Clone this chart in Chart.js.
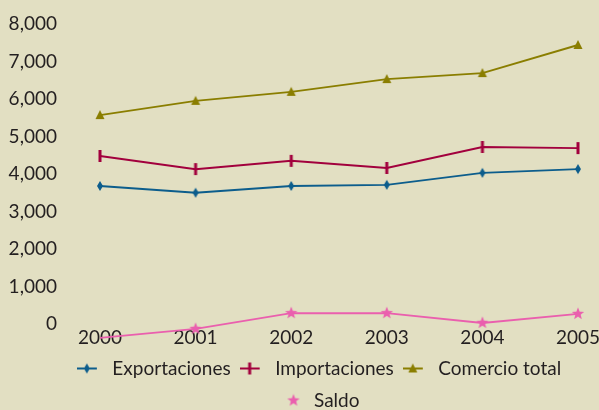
<!DOCTYPE html>
<html lang="es">
<head>
<meta charset="UTF-8">
<title>Comercio exterior 2000-2005</title>
<script src="https://cdn.jsdelivr.net/npm/chart.js"></script>
<style>
  html, body { margin: 0; padding: 0; background: #e2dfc2; }
  #wrap { width: 599px; height: 410px; }
</style>
</head>
<body>
<div id="wrap"><canvas id="tradeChart"></canvas></div>
<script>
// values per year
const years = ['2000', '2001', '2002', '2003', '2004', '2005'];
const exportaciones = [3680, 3500, 3680, 3710, 4030, 4130];
const importaciones = [4480, 4130, 4350, 4160, 4720, 4690];
const comercioTotal = [5570, 5950, 6190, 6530, 6690, 7440];
const saldo = [-370, -130, 290, 290, 30, 270];
const yTicks = [0, 1000, 2000, 3000, 4000, 5000, 6000, 7000, 8000];

const BLUE = '#0c5d8c';
const RED = '#a2003d';
const OLIVE = '#8a7e00';
const PINK = '#ea5fae';
const TEXT = '#231f20';
const FONT = 'Lato, "Open Sans", sans-serif';

// marker shapes, drawn into small canvases used as pointStyle
function diamond(ctx, cx, cy, color) {
    ctx.fillStyle = color;
    ctx.beginPath();
    ctx.moveTo(cx, cy - 5);
    ctx.lineTo(cx + 3, cy);
    ctx.lineTo(cx, cy + 5);
    ctx.lineTo(cx - 3, cy);
    ctx.closePath();
    ctx.fill();
}
function bar(ctx, cx, cy, color) {
    ctx.fillStyle = color;
    ctx.fillRect(cx - 1.5, cy - 6, 3, 12);
}
function triangle(ctx, cx, cy, color) {
    ctx.fillStyle = color;
    ctx.beginPath();
    ctx.moveTo(cx, cy - 5);
    ctx.lineTo(cx + 4.5, cy + 4);
    ctx.lineTo(cx - 4.5, cy + 4);
    ctx.closePath();
    ctx.fill();
}
function star(ctx, cx, cy, color) {
    ctx.fillStyle = color;
    ctx.beginPath();
    for (let i = 0; i < 10; i++) {
        const r = i % 2 === 0 ? 6.5 : 2.8;
        const a = -Math.PI / 2 + i * Math.PI / 5;
        const px = cx + r * Math.cos(a), py = cy + r * Math.sin(a);
        if (i === 0) ctx.moveTo(px, py); else ctx.lineTo(px, py);
    }
    ctx.closePath();
    ctx.fill();
}

function makeCanvas(w, h, draw) {
    const c = document.createElement('canvas');
    c.width = w;
    c.height = h;
    draw(c.getContext('2d'), w, h);
    return c;
}
function pointIcon(shape, color) {
    return makeCanvas(16, 16, ctx => shape(ctx, 8, 8, color));
}
// legend swatch: short line with the marker (Saldo gets the marker only)
function legendIcon(shape, color, withLine) {
    return makeCanvas(30, 16, ctx => {
        if (withLine) {
            ctx.strokeStyle = color;
            ctx.lineWidth = 2;
            ctx.beginPath();
            ctx.moveTo(0, 8);
            ctx.lineTo(20, 8);
            ctx.stroke();
            shape(ctx, 10, 8, color);
        } else {
            shape(ctx, 15, 8, color);
        }
    });
}

function series(label, data, color, shape, withLine) {
    return {
        label: label,
        data: data,
        borderColor: color,
        backgroundColor: color,
        borderWidth: 2,
        tension: 0,
        clip: false,
        pointStyle: pointIcon(shape, color),
        legendIcon: legendIcon(shape, color, withLine)
    };
}

// moves the legend block so its rows are centred under the plot
const legendShift = {
    id: 'legendShift',
    afterLayout(chart) {
        chart.legend.left = 64;
        chart.legend.right = 578;
    }
};

const chart = new Chart(document.getElementById('tradeChart'), {
    type: 'line',
    data: {
        labels: years,
        datasets: [
            series('Exportaciones', exportaciones, BLUE, diamond, true),
            series('Importaciones', importaciones, RED, bar, true),
            series('Comercio total', comercioTotal, OLIVE, triangle, true),
            series('Saldo', saldo, PINK, star, false)
        ]
    },
    plugins: [legendShift],
    options: {
        responsive: true,
        maintainAspectRatio: false,
        animation: false,
        layout: { padding: { top: 24, right: 21, left: 0, bottom: 0 } },
        plugins: {
            tooltip: { enabled: false },
            legend: {
                position: 'bottom',
                maxHeight: 64,
                labels: {
                    usePointStyle: true,
                    pointStyleWidth: 22,
                    padding: 13,
                    color: TEXT,
                    font: { family: FONT, size: 19 },
                    generateLabels: c => c.data.datasets.map((ds, i) => ({
                        text: ds.label,
                        pointStyle: ds.legendIcon,
                        fillStyle: ds.borderColor,
                        strokeStyle: ds.borderColor,
                        lineWidth: 0,
                        fontColor: TEXT,
                        hidden: false,
                        datasetIndex: i
                    }))
                }
            }
        },
        scales: {
            x: {
                grid: { display: false, drawTicks: false },
                border: { display: false },
                afterFit: axis => {
                    axis.height = 22;
                    axis.paddingLeft = 0;
                    axis.paddingRight = 0;
                },
                ticks: { color: TEXT, padding: 2, font: { family: FONT, size: 19 }, maxRotation: 0 }
            },
            y: {
                min: 0,
                max: 8000,
                grid: { display: false, drawTicks: false },
                border: { display: false },
                afterFit: axis => {
                    axis.width = 100;
                    axis.paddingTop = 0;
                    axis.paddingBottom = 0;
                },
                afterBuildTicks: axis => { axis.ticks = yTicks.map(v => ({ value: v })); },
                ticks: {
                    color: TEXT,
                    padding: 43,
                    font: { family: FONT, size: 19 },
                    callback: v => v.toLocaleString('en-US')
                }
            }
        }
    }
});
</script>
</body>
</html>
